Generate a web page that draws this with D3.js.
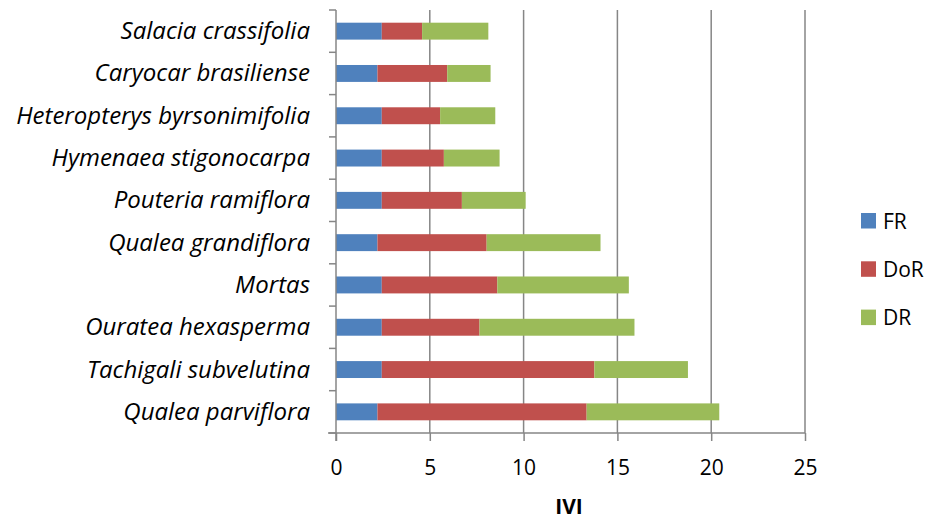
<!DOCTYPE html>
<html><head><meta charset="utf-8">
<script src="https://cdn.jsdelivr.net/npm/d3@7"></script>
<style>body{margin:0;background:#fff}svg{display:block}</style>
</head><body>
<svg id="c" width="931" height="519"></svg>
<script>
const categories = ["Salacia crassifolia","Caryocar brasiliense","Heteropterys byrsonimifolia","Hymenaea stigonocarpa","Pouteria ramiflora","Qualea grandiflora","Mortas","Ouratea hexasperma","Tachigali subvelutina","Qualea parviflora"];
const seriesNames = ["FR","DoR","DR"];
const FR  = [2.44,2.21,2.44,2.44,2.44,2.21,2.44,2.44,2.44,2.21];
const DoR = [2.15,3.72,3.11,3.31,4.27,5.82,6.16,5.21,11.33,11.15];
const DR  = [3.53,2.31,2.94,2.97,3.40,6.07,7.01,8.26,4.99,7.07];
const colors = ["#4F81BD","#C0504D","#9BBB59"];
const xTicks = [0,5,10,15,20,25];

const svg = d3.select("#c");
const m = {left:336, right:805, top:10, bottom:433};
const x = d3.scaleLinear().domain([0,25]).range([m.left, m.right]);
const y = d3.scaleBand().domain(categories).range([m.top, m.bottom]).paddingInner(0.6).paddingOuter(0.3);
const yb = d3.scaleBand().domain(categories).range([m.top, m.bottom]);

const rows = categories.map((c,i)=>({cat:c, FR:FR[i], DoR:DoR[i], DR:DR[i]}));
const stack = d3.stack().keys(seriesNames)(rows);

// gridlines
svg.append("g").selectAll("line").data(xTicks.slice(1)).join("line")
  .attr("x1",d=>x(d)).attr("x2",d=>x(d)).attr("y1",m.top).attr("y2",m.bottom)
  .attr("stroke","#868686").attr("stroke-width",1.5);

// bars
svg.append("g").selectAll("g").data(stack).join("g")
  .attr("fill",(d,i)=>colors[i])
  .selectAll("rect").data(d=>d).join("rect")
  .attr("x",d=>x(d[0])).attr("width",d=>x(d[1])-x(d[0]))
  .attr("y",d=>y(d.data.cat)).attr("height",y.bandwidth());

// y axis
const yAxisG = svg.append("g");
yAxisG.append("line").attr("x1",m.left).attr("x2",m.left).attr("y1",m.top).attr("y2",m.bottom+8)
  .attr("stroke","#868686").attr("stroke-width",1.5);
yAxisG.selectAll("line.t").data(categories.map(c=>yb(c)).concat([m.bottom])).join("line").attr("class","t")
  .attr("x1",m.left-7).attr("x2",m.left).attr("y1",d=>d).attr("y2",d=>d)
  .attr("stroke","#868686").attr("stroke-width",1.5);
yAxisG.selectAll("text").data(categories).join("text")
  .attr("x",310).attr("y",d=>yb(d)+yb.bandwidth()/2+8)
  .attr("text-anchor","end").attr("font-family","'Open Sans'").attr("font-style","italic")
  .attr("font-size",24).attr("fill","#000").text(d=>d);

// x axis
const xAxis = d3.axisBottom(x).tickValues(xTicks).tickSize(8).tickPadding(12);
const xg = svg.append("g").attr("transform",`translate(0,${m.bottom})`).call(xAxis);
xg.select(".domain").attr("stroke","#868686").attr("stroke-width",1.5).attr("d",`M${m.left-8},0H${m.right}`);
xg.selectAll(".tick line").attr("stroke","#868686").attr("stroke-width",1.5);
xg.selectAll(".tick text").attr("font-family","'Open Sans'").attr("font-size",21).attr("fill","#000")
  .attr("dy",null).attr("y",42);

svg.append("text").attr("x",569).attr("y",514).attr("text-anchor","middle")
  .attr("font-family","'Open Sans'").attr("font-weight","bold").attr("font-size",21).text("IVI");

// legend
const lg = svg.append("g").selectAll("g").data(seriesNames).join("g")
  .attr("transform",(d,i)=>`translate(861,${213+i*48.3})`);
lg.append("rect").attr("width",15).attr("height",15.5).attr("fill",(d,i)=>colors[i]);
lg.append("text").attr("x",22).attr("y",15.5).attr("font-family","'Open Sans'").attr("font-size",21).text(d=>d);
</script>
</body></html>
